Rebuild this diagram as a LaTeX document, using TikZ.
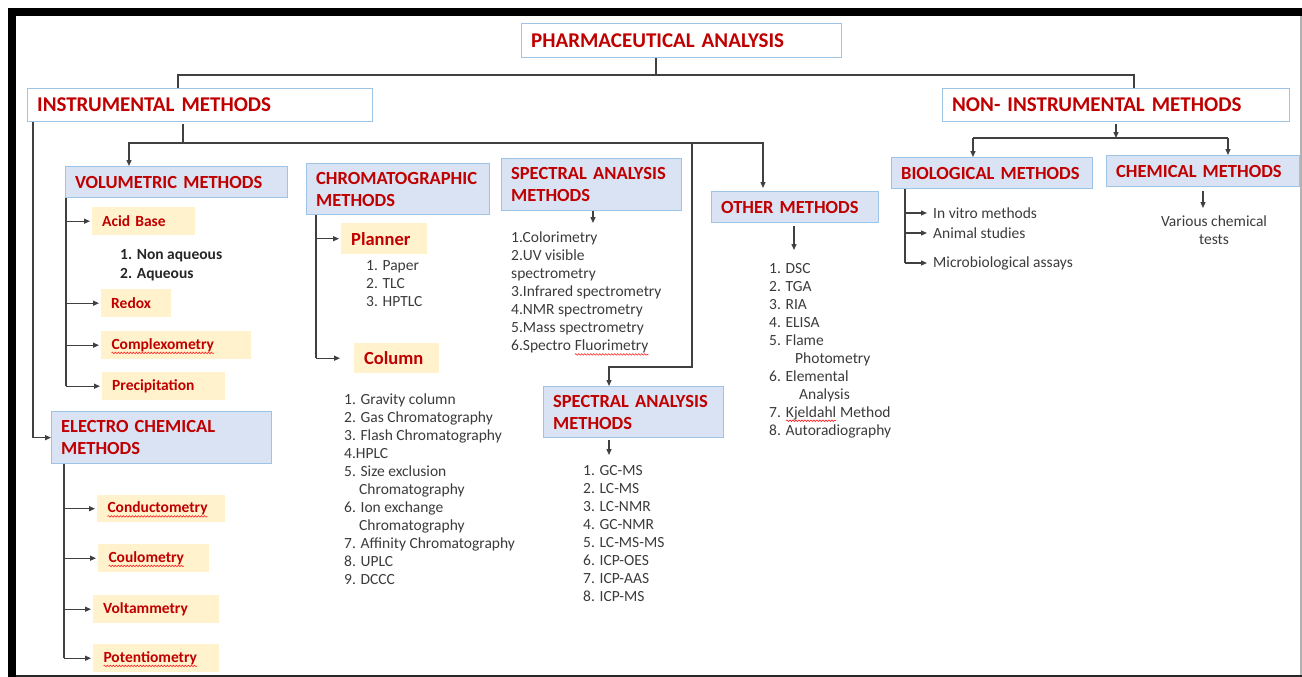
\documentclass[tikz,border=0pt]{standalone}
\usepackage{fontspec}
\setmainfont{Carlito}
\usetikzlibrary{arrows.meta,decorations.pathmorphing}
\definecolor{hred}{HTML}{C00000}
\definecolor{bblue}{HTML}{9DC3E6}
\definecolor{fblue}{HTML}{DAE3F3}
\definecolor{forange}{HTML}{FFF2CC}
\definecolor{ltext}{HTML}{3B3B3B}
\definecolor{dtext}{HTML}{262626}
\definecolor{lline}{HTML}{404040}
\newcommand\spellwave[1]{\tikz[baseline=(w.base)]{\node[inner sep=0pt,outer sep=0pt] (w) {#1};\draw[red!85,line width=0.6pt,decorate,decoration={snake,amplitude=0.8pt,segment length=3pt}] ([yshift=-3.5pt]w.base west) -- ([yshift=-3.5pt]w.base east);}}
\begin{document}
\begin{tikzpicture}[x=1pt,y=-1pt,
  ln/.style={draw=lline,line width=1.3pt},
  arr/.style={ln,-{Triangle[length=6pt,width=5pt]}},
  lvlone/.style={draw=bblue,line width=1.3pt,fill=white,anchor=north west,inner xsep=9.5pt,inner ysep=0pt,align=left,text=hred,font=\fontsize{21}{24}\selectfont\bfseries},
  lvltwo/.style={lvlone,fill=fblue,font=\fontsize{18.5}{22}\selectfont\bfseries},
  subbox/.style={fill=forange,anchor=north west,inner xsep=10pt,inner ysep=0pt,align=left,text=hred,font=\fontsize{15.5}{18}\selectfont\bfseries},
  bigsub/.style={subbox,font=\fontsize{18.5}{22}\selectfont\bfseries},
  lst/.style={anchor=north west,inner sep=0pt,align=left,text=ltext,font=\fontsize{15.5}{18}\selectfont},
  item/.style={anchor=west,inner sep=0pt,text=ltext,font=\fontsize{15.5}{18}\selectfont}]
\useasboundingbox (0,0) rectangle (1302,677);
% frame
\fill[black] (8,8) rectangle (1302,16);
\fill[black] (8,8) rectangle (16,677);
\fill[black!30] (1300,16) rectangle (1302,675);
\fill[black!85] (16,675) rectangle (1302,677);

% main boxes
\node[lvlone,text width=301pt,minimum height=34pt] (pa) at (521,23) {PHARMACEUTICAL ANALYSIS};
\node[lvlone,text width=326pt,minimum height=33pt] (inst) at (27,88) {INSTRUMENTAL METHODS};
\node[lvlone,text width=328pt,minimum height=33pt] (ninst) at (942,88) {NON- INSTRUMENTAL METHODS};

\node[lvltwo,text width=203pt,minimum height=31pt] (vol) at (65,166) {VOLUMETRIC METHODS};
\node[lvltwo,text width=164pt,minimum height=51pt] (chrom) at (306,163) {CHROMATOGRAPHIC\\METHODS};
\node[lvltwo,text width=161pt,minimum height=52pt] (spec1) at (501,158) {SPECTRAL ANALYSIS\\METHODS};
\node[lvltwo,text width=161pt,minimum height=51pt] (spec2) at (543,386) {SPECTRAL ANALYSIS\\METHODS};
\node[lvltwo,text width=148pt,minimum height=31pt] (oth) at (711,191) {OTHER METHODS};
\node[lvltwo,text width=182pt,minimum height=31pt] (bio) at (891,157) {BIOLOGICAL METHODS};
\node[lvltwo,text width=174pt,minimum height=31pt] (chem) at (1106,155) {CHEMICAL METHODS};
\node[lvltwo,text width=201pt,minimum height=52pt] (elec) at (51,411) {ELECTRO CHEMICAL\\METHODS};

% sub boxes
\node[subbox,text width=83pt,minimum height=28pt] (acid) at (92,207) {Acid Base};
\node[subbox,text width=50pt,minimum height=28pt] (redox) at (101,289) {Redox};
\node[subbox,text width=130pt,minimum height=28pt] (complex) at (101,331) {\spellwave{Complexometry}};
\node[subbox,text width=103pt,minimum height=28pt] (prec) at (102,372) {Precipitation};
\node[bigsub,text width=66pt,minimum height=31pt] (planner) at (341,223) {Planner};
\node[bigsub,text width=65pt,minimum height=30pt] (column) at (354,343) {Column};
\node[subbox,text width=108pt,minimum height=27pt] (cond) at (97,495) {\spellwave{Conductometry}};
\node[subbox,text width=91pt,minimum height=28pt] (coul) at (98,544) {\spellwave{Coulometry}};
\node[subbox,text width=106pt,minimum height=28pt] (volt) at (93,595) {Voltammetry};
\node[subbox,text width=106pt,minimum height=28pt] (pot) at (93,644) {\spellwave{Potentiometry}};

% lists
\node[lst,text=dtext,font=\fontsize{15.5}{19}\selectfont\bfseries] (acidl) at (120,249) {1. Non aqueous\\2. Aqueous};
\node[lst] (plal) at (366,260) {1. Paper\\2. TLC\\3. HPTLC};
\node[lst] (coll) at (344,394) {1. Gravity column\\2. Gas Chromatography\\3. Flash Chromatography\\4.HPLC\\5. Size exclusion\\\hspace*{15pt}Chromatography\\6. Ion exchange\\\hspace*{15pt}Chromatography\\7. Affinity Chromatography\\8. UPLC\\9. DCCC};
\node[lst] (spl1) at (511,232) {1.Colorimetry\\2.UV visible\\spectrometry\\3.Infrared spectrometry\\4.NMR spectrometry\\5.Mass spectrometry\\6.Spectro \spellwave{Fluorimetry}};
\node[lst] (spl2) at (583,465) {1. GC-MS\\2. LC-MS\\3. LC-NMR\\4. GC-NMR\\5. LC-MS-MS\\6. ICP-OES\\7. ICP-AAS\\8. ICP-MS};
\node[lst] (othl) at (769,263) {1. DSC\\2. TGA\\3. RIA\\4. ELISA\\5. Flame\\\hspace*{26pt}Photometry\\6. Elemental\\\hspace*{30pt}Analysis\\7. \spellwave{Kjeldahl} Method\\8. Autoradiography};
\node[item] (b1) at (933,213) {In vitro methods};
\node[item] (b2) at (933,233) {Animal studies};
\node[item] (b3) at (933,263) {Microbiological assays};
\node[lst,anchor=north,align=center] (chl) at (1214,216) {Various chemical\\tests};

% top connectors
\coordinate (jPA) at (656,75);
\coordinate (jI) at (178,75);
\coordinate (jN) at (1134,75);
\draw[ln] (pa.south -| jPA) -- (jPA);
\draw[ln] (inst.north -| jI) -- (jI) -- (jN) -- (ninst.north -| jN);

% instrumental
\coordinate (iL) at (33,0);
\draw[arr] (inst.south -| iL) |- (elec.west);
\coordinate (jV) at (183,143);
\coordinate (jVL) at (129,143);
\coordinate (jVR) at (763,143);
\coordinate (jS) at (692,143);
\coordinate (jS2) at (692,367);
\coordinate (jS3) at (609,367);
\draw[ln,shorten <=2pt] (inst.south -| jV) -- (jV);
\draw[arr] (jV) -- (jVL) -- (vol.north -| jVL);
\draw[arr,shorten >=3pt] (jV) -- (jVR) -- (oth.north -| jVR);
\draw[arr] (jS) -- (jS2) -- (jS3) -- (spec2.north -| jS3);

% volumetric
\coordinate (vx) at (66,0);
\draw[ln] (vol.south -| vx) -- (prec.west -| vx);
\foreach \n in {acid,redox,complex,prec} \draw[arr,shorten >=2pt] (\n.west -| vx) -- (\n.west);

% electro
\coordinate (ex) at (64,0);
\draw[ln] (elec.south -| ex) -- (pot.west -| ex);
\foreach \n in {cond,coul,volt,pot} \draw[arr,shorten >=2pt] (\n.west -| ex) -- (\n.west);

% chromatographic
\coordinate (cx) at (316,0);
\draw[ln] (chrom.south -| cx) -- (column.west -| cx);
\draw[arr,shorten >=2pt] (planner.west -| cx) -- (planner.west);
\draw[arr,shorten >=14pt] (column.west -| cx) -- (column.west);

% spectral / other
\coordinate (s1e) at (593,223);
\draw[arr] (spec1.south -| s1e) -- (s1e);
\coordinate (s2e) at (609,455);
\draw[arr,shorten <=2pt] (spec2.south -| s2e) -- (s2e);
\coordinate (oe) at (794,250);
\draw[arr,shorten <=3pt] (oth.south -| oe) -- (oe);

% non-instrumental
\coordinate (nj) at (1116,138);
\coordinate (nL) at (973,138);
\coordinate (nR) at (1228,138);
\draw[arr,shorten <=2pt] (ninst.south -| nj) -- (nj);
\draw[ln] (nL) -- (nR);
\draw[arr] (nL) -- (bio.north -| nL);
\draw[arr] (nR) -- (chem.north -| nR);
\coordinate (bx) at (905,0);
\draw[ln] (bio.south -| bx) -- (b3.west -| bx);
\foreach \n in {b1,b2,b3} \draw[arr,shorten >=6pt] (\n.west -| bx) -- (\n.west);
\coordinate (ce) at (1203,208);
\draw[arr,shorten <=4pt] (chem.south -| ce) -- (ce);
\end{tikzpicture}
\end{document}
